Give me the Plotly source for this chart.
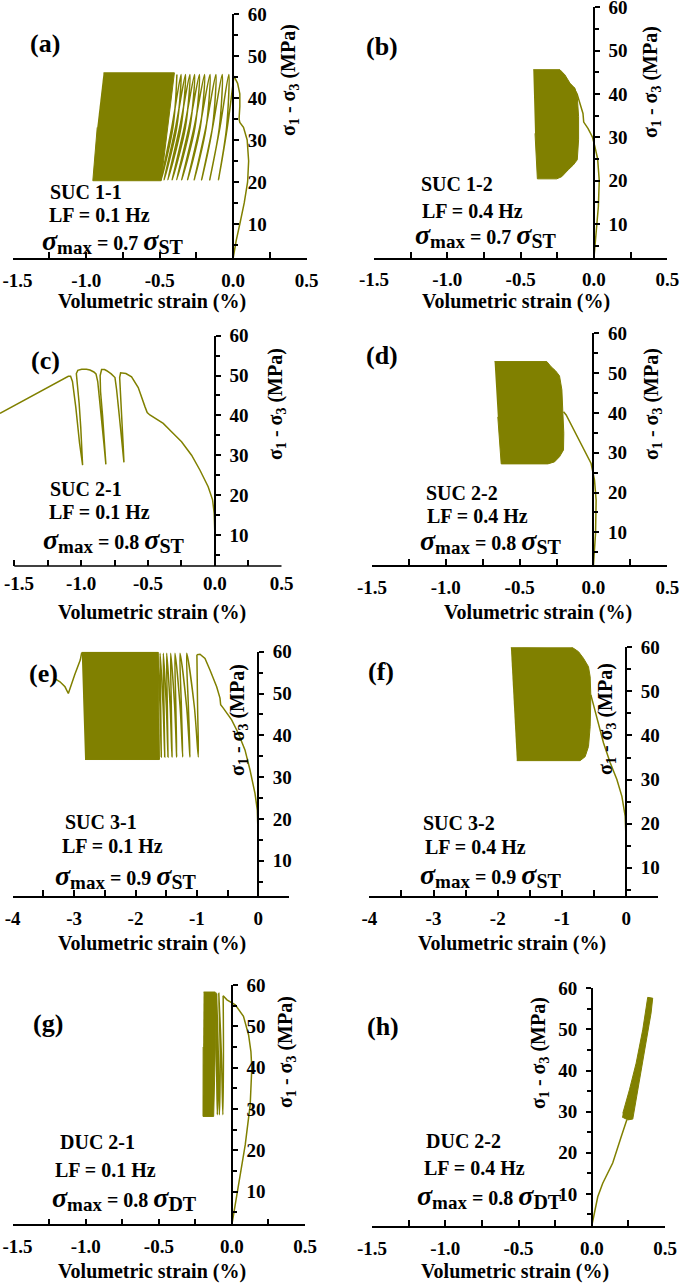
import plotly.graph_objects as go

W, H = 685, 1283
OLIVE = '#808000'
SERIF = 'Liberation Serif'

# ---------------- tick labels ----------------
x_ticks_s = [-1.5, -1.0, -0.5, 0.0, 0.5]
x_text_s = ['-1.5', '-1.0', '-0.5', '0.0', '0.5']
x_text_s_edge = ['\u00a0\u00a0-1.5', '-1.0', '-0.5', '0.0', '0.5']
x_minor_s = [-1.25, -0.75, -0.25, 0.25]
x_ticks_l = [-4, -3, -2, -1, 0]
x_text_l = ['-4', '-3', '-2', '-1', '0']
x_minor_l = [-3.5, -2.5, -1.5, -0.5, 0.5]
y_ticks = [10, 20, 30, 40, 50, 60]
y_text = ['10', '20', '30', '40', '50', '60']
y_minor = [5, 15, 25, 35, 45, 55]

# ---------------- (a) SUC 1-1 ----------------
a_init_x = [0.0, 0.02, 0.045, 0.075, 0.098, 0.105, 0.095, 0.07, 0.045, 0.04, 0.045, 0.045, 0.03, 0.005]
a_init_y = [1.9, 6, 10, 15, 20, 25, 30, 33, 34.2, 35, 38, 41, 43.5, 45.2]
# cyclic loops: strain at valley, on the unloading leg half-way, on the reloading leg half-way, at peak
a_valley_x = [-0.10, -0.16, -0.215, -0.265, -0.31, -0.35, -0.385, -0.415, -0.445, -0.47, -0.49]
a_down_mid_x = [-0.040, -0.090, -0.140, -0.186, -0.228, -0.266, -0.301, -0.333, -0.364, -0.392, -0.418]
a_up_mid_x = [-0.045, -0.094, -0.141, -0.184, -0.224, -0.260, -0.294, -0.325, -0.355, -0.384, -0.410]
a_peak_x = [-0.03, -0.075, -0.118, -0.158, -0.195, -0.23, -0.263, -0.295, -0.325, -0.355, -0.383]
a_valley_y = 20.5
a_mid_y = 33.0
a_peak_y = 45.6
a_band_x = [-0.882, -0.40, -0.49, -0.955, -0.925]
a_band_y = [46.0, 46.0, 20.3, 20.3, 33.0]

# ---------------- (b) SUC 1-2 ----------------
b_init_x = [0.0, 0.015, 0.03, 0.036, 0.025, 0.005, -0.01, -0.04, -0.07, -0.075, -0.09, -0.115, -0.14]
b_init_y = [2.2, 8, 14, 20, 25, 28, 30, 32, 33.5, 35.5, 37, 40, 41.5]
b_band_x = [-0.414, -0.232, -0.198, -0.164, -0.130, -0.114, -0.105, -0.105, -0.114, -0.141, -0.175, -0.220, -0.254, -0.386, -0.402]
b_band_y = [45.6, 45.6, 44.4, 42.5, 41.3, 39.4, 34.8, 29.4, 24.8, 23.6, 22.5, 20.9, 20.4, 20.4, 30.9]

# ---------------- (c) SUC 2-1 ----------------
c_x = [-1.607, -1.096, -1.079,
       -1.065, -1.040, -1.012, -0.989,
       -0.993, -1.003, -1.015, -1.028, -1.036, -1.025,
       -0.996, -0.96, -0.934, -0.905, -0.889,
       -0.876, -0.855, -0.830, -0.815,
       -0.822, -0.840, -0.855, -0.858, -0.847,
       -0.825, -0.809, -0.775, -0.747,
       -0.735, -0.715, -0.695, -0.680,
       -0.685, -0.697, -0.708, -0.712, -0.705,
       -0.665, -0.623, -0.573, -0.523, -0.506, -0.486, -0.386, -0.324, -0.249,
       -0.174, -0.112, -0.050, -0.017, -0.005, 0.0, 0.0]
c_y = [40.5, 49.8, 49.8,
       48.5, 42.0, 33.0, 27.5,
       31.0, 37.0, 43.0, 48.0, 50.5, 51.3,
       51.6, 51.6, 51.4, 50.9, 50.4,
       48.5, 42.0, 33.0, 27.7,
       32.0, 40.0, 46.0, 50.0, 51.5,
       51.5, 51.2, 50.4, 49.5,
       46.5, 40.0, 33.0, 28.2,
       32.0, 39.0, 46.0, 49.5, 50.7,
       50.5, 49.7, 47.0, 42.2, 40.7, 40.1, 38.0, 35.9, 33.4,
       30.0, 26.3, 22.1, 18.8, 15.4, 10.4, 2.2]

# ---------------- (d) SUC 2-2 ----------------
d_init_x = [0.0, 0.014, 0.018, 0.007, -0.016, -0.05, -0.095, -0.140, -0.185, -0.203]
d_init_y = [1.8, 9.7, 18.1, 23.1, 27.3, 29.8, 33.2, 36.5, 39.5, 40.3]
d_band_x = [-0.670, -0.316, -0.287, -0.257, -0.230, -0.214, -0.208, -0.201, -0.203, -0.230, -0.264, -0.309, -0.625, -0.648]
d_band_y = [52.9, 52.9, 51.6, 50.6, 49.3, 45.8, 40.7, 34.9, 30.7, 29.0, 27.7, 27.2, 27.2, 39.0]

# ---------------- (e) SUC 3-1 ----------------
e_init_x = [0.0, 0.0, -0.016, -0.054, -0.135, -0.217, -0.326, -0.434, -0.570, -0.613, -0.624, -0.678, -0.787, -0.868, -0.95, -1.0]
e_init_y = [1.55, 14.2, 22.1, 26.1, 31.7, 36.5, 40.5, 43.7, 46.5, 47.3, 48.9, 51.6, 55.6, 58.4, 59.4, 59.3]
e_valley_x = [-0.977, -1.112, -1.231, -1.329, -1.406, -1.471, -1.524, -1.58]
e_down_mid_x = [-0.989, -1.139, -1.253, -1.343, -1.417, -1.482, -1.536, -1.59]
e_up_mid_x = [-1.043, -1.169, -1.275, -1.363, -1.436, -1.498, -1.551, -1.601]
e_peak_x = [-1.166, -1.275, -1.357, -1.427, -1.492, -1.547, -1.60, -1.64]
e_valley_y = 34.8
e_mid_y = 47.0
e_peak_y = 59.6
e_band_x = [-2.876, -1.63, -1.61, -2.822]
e_band_y = [59.9, 59.9, 34.2, 34.2]
e_tail_x = [-3.295, -3.23, -3.148, -3.094, -2.99, -2.90, -2.876]
e_tail_y = [53.4, 52.8, 51.6, 50.0, 54.5, 58.0, 59.8]

# ---------------- (f) SUC 3-2 ----------------
f_init_x = [0.0, 0.0, -0.016, -0.067, -0.145, -0.249, -0.353, -0.431, -0.498, -0.550]
f_init_y = [3.6, 15.7, 21.7, 26.2, 30.0, 33.8, 38.3, 42.8, 46.6, 49.2]
f_band_x = [-1.796, -0.872, -0.742, -0.665, -0.587, -0.561, -0.550, -0.561, -0.587, -0.639, -0.717, -1.703]
f_band_y = [60.0, 60.3, 59.0, 57.5, 55.6, 53.3, 48.8, 42.0, 37.5, 35.2, 34.3, 34.3]

# ---------------- (g) DUC 2-1 ----------------
g_init_x = [0.0, 0.045, 0.091, 0.125, 0.136, 0.130, 0.114, 0.079, 0.023, -0.034, -0.06]
g_init_y = [2.1, 11.6, 21.3, 31.0, 39.9, 43.9, 47.9, 52.4, 55.2, 56.4, 57.4]
g_valley_x = [-0.062, -0.086, -0.10]
g_down_mid_x = [-0.058, -0.080, -0.097]
g_up_mid_x = [-0.072, -0.093, -0.106]
g_peak_x = [-0.09, -0.105, -0.114]
g_valley_y = 28.6
g_mid_y = 43.0
g_peak_y = 58.0
g_band_x = [-0.194, -0.114, -0.113, -0.125, -0.198, -0.197]
g_band_y = [58.3, 58.3, 45.0, 28.2, 28.2, 45.0]

# ---------------- (h) DUC 2-2 ----------------
h_init_x = [0.0, 0.041, 0.075, 0.143, 0.201, 0.239]
h_init_y = [2.2, 9.3, 12.6, 17.5, 23.9, 28.0]
h_band_x = [0.207, 0.246, 0.280, 0.326, 0.371, 0.405, 0.416, 0.382, 0.348, 0.303, 0.257, 0.212]
h_band_y = [28.7, 28.0, 28.2, 37.7, 46.7, 54.0, 57.6, 57.8, 49.9, 41.8, 35.3, 29.6]

# ---------------- layout helpers ----------------
def fx(px):
    return px / W


def fy(py):
    return 1 - py / H


# panel geometry in pixels: x-domain, y-domain (top, bottom), ranges
panels = [
    dict(xd=(12.7, 306.7), yd=(14, 258), xr=(-1.5, 0.5), yr=(1.9, 60), long=False, edge=True),
    dict(xd=(374, 667.3), yd=(7.3, 257.7), xr=(-1.5, 0.5), yr=(2.2, 60), long=False, edge=False),
    dict(xd=(0, 281.7), yd=(335.7, 566), xr=(-1.607, 0.5), yr=(2.2, 60), long=False, edge=True),
    dict(xd=(372, 667.3), yd=(333.3, 565), xr=(-1.5, 0.5), yr=(1.8, 60), long=False, edge=False),
    dict(xd=(12.7, 289), yd=(651.7, 896), xr=(-4, 0.5), yr=(1.55, 60), long=True, edge=False),
    dict(xd=(369.3, 658.3), yd=(647.3, 896), xr=(-4, 0.5), yr=(3.6, 60), long=True, edge=False),
    dict(xd=(12.7, 305), yd=(985, 1224.3), xr=(-1.5, 0.5), yr=(2.1, 60), long=False, edge=True),
    dict(xd=(372, 665), yd=(988.3, 1226), xr=(-1.5, 0.5), yr=(2.2, 60), long=False, edge=False),
]

fig = go.Figure()


def line(i, xs, ys, shape='linear'):
    fig.add_trace(go.Scatter(x=xs, y=ys, mode='lines', xaxis='x%d' % i, yaxis='y%d' % i,
                             line=dict(color=OLIVE, width=1.5, shape=shape, smoothing=1.0),
                             hoverinfo='skip'))


def band(i, xs, ys):
    fig.add_trace(go.Scatter(x=xs, y=ys, mode='lines', fill='toself', fillcolor=OLIVE,
                             xaxis='x%d' % i, yaxis='y%d' % i,
                             line=dict(color=OLIVE, width=1), hoverinfo='skip'))


def loops(i, x0, y0, down_mid, valleys, up_mid, peaks, my, vy, py):
    xs, ys = [x0], [y0]
    for k in range(len(valleys)):
        xs += [down_mid[k], valleys[k], up_mid[k], peaks[k]]
        ys += [my, vy, my, py]
    line(i, xs, ys, shape='spline')


# (a)
band(1, a_band_x, a_band_y)
line(1, a_init_x, a_init_y)
loops(1, a_init_x[-1], a_init_y[-1], a_down_mid_x, a_valley_x, a_up_mid_x, a_peak_x,
      a_mid_y, a_valley_y, a_peak_y)
# (b)
band(2, b_band_x, b_band_y)
line(2, b_init_x, b_init_y)
# (c)
line(3, c_x, c_y)
# (d)
band(4, d_band_x, d_band_y)
line(4, d_init_x, d_init_y)
# (e)
band(5, e_band_x, e_band_y)
line(5, e_tail_x, e_tail_y)
line(5, e_init_x, e_init_y)
loops(5, e_init_x[-1], e_init_y[-1], e_down_mid_x, e_valley_x, e_up_mid_x, e_peak_x,
      e_mid_y, e_valley_y, e_peak_y)
# (f)
band(6, f_band_x, f_band_y)
line(6, f_init_x, f_init_y)
# (g)
band(7, g_band_x, g_band_y)
line(7, g_init_x, g_init_y)
loops(7, g_init_x[-1], g_init_y[-1], g_down_mid_x, g_valley_x, g_up_mid_x, g_peak_x,
      g_mid_y, g_valley_y, g_peak_y)
# (h)
band(8, h_band_x, h_band_y)
line(8, h_init_x, h_init_y)

tickfont = dict(family=SERIF, size=19, color='black', weight='bold')
layout = dict(template='none', width=W, height=H, margin=dict(l=0, r=0, t=0, b=0, pad=0),
              autosize=False, paper_bgcolor='white', plot_bgcolor='white', showlegend=False)
shapes = []
for n, p in enumerate(panels, start=1):
    xd0, xd1 = fx(p['xd'][0]), fx(p['xd'][1])
    yd0, yd1 = fy(p['yd'][1]), fy(p['yd'][0])
    xr0, xr1 = p['xr']
    pos = xd0 + (0 - xr0) / (xr1 - xr0) * (xd1 - xd0)
    if p['long']:
        tv, tt, mv = x_ticks_l, x_text_l, x_minor_l
    else:
        tv, mv = x_ticks_s, x_minor_s
        tt = x_text_s_edge if p['edge'] else x_text_s
    showx = (n != 3)
    layout['xaxis%d' % n] = dict(
        domain=[xd0, xd1], range=[xr0, xr1], anchor='y%d' % n, automargin=False,
        showline=showx, linecolor='black', linewidth=1.5,
        ticks='inside', ticklen=6, tickwidth=1.5, tickcolor='black',
        tickmode='array', tickvals=tv, ticktext=tt, tickfont=tickfont,
        ticklabelstandoff=4, ticklabeloverflow='allow',
        minor=dict(tickmode='array', tickvals=mv, ticks='inside', ticklen=6,
                   tickwidth=1.5, tickcolor='black', showgrid=False),
        showgrid=False, zeroline=False, fixedrange=True)
    layout['yaxis%d' % n] = dict(
        domain=[yd0, yd1], range=list(p['yr']), anchor='free', position=pos, automargin=False,
        side='left' if n == 8 else 'right',
        showline=True, linecolor='black', linewidth=1.5,
        ticks='outside', ticklen=5, tickwidth=1.5, tickcolor='black',
        tickmode='array', tickvals=y_ticks, ticktext=y_text, tickfont=tickfont,
        ticklabelstandoff=5, ticklabeloverflow='allow',
        minor=dict(tickmode='array', tickvals=y_minor, ticks='outside', ticklen=4,
                   tickwidth=1.5, tickcolor='black', showgrid=False),
        showgrid=False, zeroline=False, fixedrange=True)
    if n == 3:
        shapes.append(dict(type='line', xref='x3', yref='paper', x0=-1.5, x1=0.5,
                           y0=yd0, y1=yd0, line=dict(color='black', width=1.5)))
layout['shapes'] = shapes

annotations = []


def ann(text, px, py, size=20, angle=0):
    annotations.append(dict(text=text, x=fx(px), y=fy(py), xref='paper', yref='paper',
                            showarrow=False, xanchor='center', yanchor='middle',
                            textangle=angle,
                            font=dict(family=SERIF, size=size, color='black', weight='bold')))


labels = ['(a)', '(b)', '(c)', '(d)', '(e)', '(f)', '(g)', '(h)']
label_pos = [(45, 44), (382, 46), (45, 360), (382, 355), (43, 673), (381, 671), (48, 1023), (383, 1026)]
for t, (px, py) in zip(labels, label_pos):
    ann(t, px, py, size=26)

ytitle = 'σ<sub>1</sub> - σ<sub>3</sub> (MPa)'
ytitle_pos = [(289, 80), (652, 82), (277, 404), (653, 404), (238, 720), (606, 719), (286, 1052), (539, 1053)]
for px, py in ytitle_pos:
    ann(ytitle, px, py, size=20, angle=-90)

xtitle = 'Volumetric strain (%)'
xtitle_pos = [(152, 301), (516, 301), (152, 612), (538, 613), (152, 943), (512, 943), (152, 1271), (515, 1271)]
for px, py in xtitle_pos:
    ann(xtitle, px, py, size=20)

names = ['SUC 1-1', 'SUC 1-2', 'SUC 2-1', 'SUC 2-2', 'SUC 3-1', 'SUC 3-2', 'DUC 2-1', 'DUC 2-2']
freqs = ['LF = 0.1 Hz', 'LF = 0.4 Hz', 'LF = 0.1 Hz', 'LF = 0.4 Hz',
         'LF = 0.1 Hz', 'LF = 0.4 Hz', 'LF = 0.1 Hz', 'LF = 0.4 Hz']
ratios = ['0.7', '0.7', '0.8', '0.8', '0.9', '0.9', '0.8', '0.8']
refs = ['ST', 'ST', 'ST', 'ST', 'ST', 'ST', 'DT', 'DT']
name_pos = [(86, 192), (457, 184), (86, 489), (462, 493), (101, 822), (459, 823), (97, 1142), (463, 1141)]
freq_pos = [(100, 215), (472, 211), (100, 512), (477, 516), (112, 846), (475, 847), (105, 1170), (474, 1168)]
sig_pos = [(113, 241), (486, 235), (114, 540), (491, 541), (126, 876), (491, 875), (124, 1198), (489, 1196)]
for k in range(8):
    ann(names[k], *name_pos[k])
    ann(freqs[k], *freq_pos[k])
    sig = ('<span style="font-size:28px"><i>σ</i></span><sub><span style="font-size:19px">max</span></sub>'
           ' = %s <span style="font-size:28px"><i>σ</i></span><sub><span style="font-size:20px">%s</span></sub>'
           % (ratios[k], refs[k]))
    ann(sig, *sig_pos[k])

layout['annotations'] = annotations
fig.update_layout(**layout)
fig.write_html('out.html', config={'displayModeBar': False},
               post_script="document.body.style.margin='0px';document.body.style.padding='0px';"
                           "document.body.style.overflow='hidden';")
